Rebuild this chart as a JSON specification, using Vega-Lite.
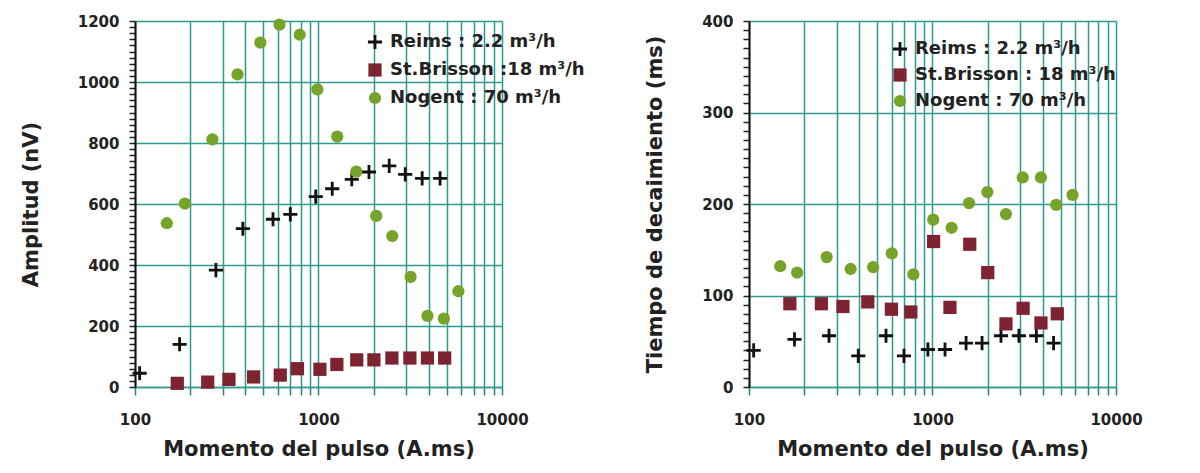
{
  "$schema": "https://vega.github.io/schema/vega-lite/v6.json",
  "background": "white",
  "padding": {"left": 20, "top": 14, "right": 5, "bottom": 5},
  "datasets": {
    "amp": [
      {"series": "Reims", "moment": 106, "value": 45},
      {"series": "Reims", "moment": 175, "value": 140},
      {"series": "Reims", "moment": 276, "value": 383},
      {"series": "Reims", "moment": 387, "value": 519},
      {"series": "Reims", "moment": 565, "value": 550},
      {"series": "Reims", "moment": 702, "value": 566},
      {"series": "Reims", "moment": 966, "value": 624},
      {"series": "Reims", "moment": 1188, "value": 650},
      {"series": "Reims", "moment": 1518, "value": 681},
      {"series": "Reims", "moment": 1884, "value": 705},
      {"series": "Reims", "moment": 2429, "value": 725},
      {"series": "Reims", "moment": 2970, "value": 697},
      {"series": "Reims", "moment": 3672, "value": 684},
      {"series": "Reims", "moment": 4597, "value": 684},
      {"series": "St.Brisson", "moment": 170, "value": 12},
      {"series": "St.Brisson", "moment": 249, "value": 16},
      {"series": "St.Brisson", "moment": 325, "value": 25},
      {"series": "St.Brisson", "moment": 443, "value": 33},
      {"series": "St.Brisson", "moment": 619, "value": 39},
      {"series": "St.Brisson", "moment": 768, "value": 60},
      {"series": "St.Brisson", "moment": 1018, "value": 58},
      {"series": "St.Brisson", "moment": 1259, "value": 74},
      {"series": "St.Brisson", "moment": 1616, "value": 89},
      {"series": "St.Brisson", "moment": 2004, "value": 89},
      {"series": "St.Brisson", "moment": 2512, "value": 95},
      {"series": "St.Brisson", "moment": 3148, "value": 95},
      {"series": "St.Brisson", "moment": 3925, "value": 95},
      {"series": "St.Brisson", "moment": 4870, "value": 95},
      {"series": "Nogent", "moment": 149, "value": 537},
      {"series": "Nogent", "moment": 187, "value": 601},
      {"series": "Nogent", "moment": 264, "value": 812},
      {"series": "Nogent", "moment": 362, "value": 1025},
      {"series": "Nogent", "moment": 482, "value": 1129},
      {"series": "Nogent", "moment": 613, "value": 1188},
      {"series": "Nogent", "moment": 790, "value": 1155},
      {"series": "Nogent", "moment": 986, "value": 976},
      {"series": "Nogent", "moment": 1265, "value": 821},
      {"series": "Nogent", "moment": 1607, "value": 706},
      {"series": "Nogent", "moment": 2064, "value": 561},
      {"series": "Nogent", "moment": 2524, "value": 495},
      {"series": "Nogent", "moment": 3176, "value": 361},
      {"series": "Nogent", "moment": 3925, "value": 233},
      {"series": "Nogent", "moment": 4824, "value": 224},
      {"series": "Nogent", "moment": 5788, "value": 314}
    ],
    "tau": [
      {"series": "Reims", "moment": 106, "value": 40},
      {"series": "Reims", "moment": 177, "value": 52},
      {"series": "Reims", "moment": 273, "value": 56},
      {"series": "Reims", "moment": 394, "value": 34},
      {"series": "Reims", "moment": 558, "value": 56},
      {"series": "Reims", "moment": 699, "value": 34},
      {"series": "Reims", "moment": 944, "value": 41},
      {"series": "Reims", "moment": 1170, "value": 41},
      {"series": "Reims", "moment": 1524, "value": 48},
      {"series": "Reims", "moment": 1862, "value": 48},
      {"series": "Reims", "moment": 2362, "value": 56},
      {"series": "Reims", "moment": 2957, "value": 56},
      {"series": "Reims", "moment": 3681, "value": 56},
      {"series": "Reims", "moment": 4570, "value": 48},
      {"series": "St.Brisson", "moment": 167, "value": 91},
      {"series": "St.Brisson", "moment": 248, "value": 91},
      {"series": "St.Brisson", "moment": 325, "value": 88},
      {"series": "St.Brisson", "moment": 444, "value": 93},
      {"series": "St.Brisson", "moment": 597, "value": 85},
      {"series": "St.Brisson", "moment": 762, "value": 82},
      {"series": "St.Brisson", "moment": 1014, "value": 159},
      {"series": "St.Brisson", "moment": 1245, "value": 87},
      {"series": "St.Brisson", "moment": 1596, "value": 156},
      {"series": "St.Brisson", "moment": 2000, "value": 125},
      {"series": "St.Brisson", "moment": 2514, "value": 69},
      {"series": "St.Brisson", "moment": 3118, "value": 86},
      {"series": "St.Brisson", "moment": 3900, "value": 70},
      {"series": "St.Brisson", "moment": 4786, "value": 80},
      {"series": "Nogent", "moment": 148, "value": 132},
      {"series": "Nogent", "moment": 183, "value": 125},
      {"series": "Nogent", "moment": 265, "value": 142},
      {"series": "Nogent", "moment": 358, "value": 129},
      {"series": "Nogent", "moment": 475, "value": 131},
      {"series": "Nogent", "moment": 600, "value": 146},
      {"series": "Nogent", "moment": 787, "value": 123},
      {"series": "Nogent", "moment": 1009, "value": 183},
      {"series": "Nogent", "moment": 1270, "value": 174},
      {"series": "Nogent", "moment": 1582, "value": 201},
      {"series": "Nogent", "moment": 1990, "value": 213},
      {"series": "Nogent", "moment": 2514, "value": 189},
      {"series": "Nogent", "moment": 3102, "value": 229},
      {"series": "Nogent", "moment": 3900, "value": 229},
      {"series": "Nogent", "moment": 4720, "value": 199},
      {"series": "Nogent", "moment": 5795, "value": 210}
    ]
  },
  "bounds": "flush",
  "spacing": 247,
  "resolve": {
    "scale": {"color": "independent", "shape": "independent", "size": "independent"},
    "legend": {"color": "independent", "shape": "independent", "size": "independent"}
  },
  "hconcat": [
    {
      "width": 367,
      "height": 366,
      "data": {"name": "amp"},
      "mark": {"type": "point", "filled": true, "opacity": 1},
      "encoding": {
        "x": {
          "field": "moment", "type": "quantitative",
          "scale": {"type": "log", "domain": [100, 10000], "nice": false},
          "axis": {
            "title": "Momento del pulso (A.ms)",
            "values": [100,200,300,400,500,600,700,800,900,1000,2000,3000,4000,5000,6000,7000,8000,9000,10000],
            "format": "d",
            "labelExpr": "(datum.value == 100 || datum.value == 1000 || datum.value == 10000) ? datum.label : ''",
            "labelOverlap": false
          }
        },
        "y": {
          "field": "value", "type": "quantitative",
          "scale": {"domain": [0, 1200], "nice": false},
          "axis": {
            "title": "Amplitud (nV)",
            "values": [0,20,40,60,80,100,120,140,160,180,200,220,240,260,280,300,320,340,360,380,400,420,440,460,480,500,520,540,560,580,600,620,640,660,680,700,720,740,760,780,800,820,840,860,880,900,920,940,960,980,1000,1020,1040,1060,1080,1100,1120,1140,1160,1180,1200],
            "labelExpr": "datum.value % 200 == 0 ? datum.label : ''",
            "format": "d",
            "labelOverlap": false,
            "ticks": true,
            "gridOpacity": {"condition": {"test": "datum.value % 200 == 0", "value": 1}, "value": 0}
          }
        },
        "color": {
          "field": "series", "type": "nominal",
          "scale": {"domain": ["Reims", "St.Brisson", "Nogent"], "range": ["#111111", "#7e2430", "#76a42a"]},
          "legend": {
            "title": null, "orient": "none", "legendX": 231, "legendY": 12,
            "labelExpr": "datum.value == 'Reims' ? 'Reims : 2.2 m³/h' : datum.value == 'St.Brisson' ? 'St.Brisson :18 m³/h' : 'Nogent : 70 m³/h'"
          }
        },
        "shape": {
          "field": "series", "type": "nominal",
          "scale": {"domain": ["Reims", "St.Brisson", "Nogent"], "range": ["M-1,-0.2L1,-0.2L1,0.2L-1,0.2Z M-0.2,-1L0.2,-1L0.2,1L-0.2,1Z", "square", "circle"]},
          "legend": {
            "title": null, "orient": "none", "legendX": 231, "legendY": 12,
            "labelExpr": "datum.value == 'Reims' ? 'Reims : 2.2 m³/h' : datum.value == 'St.Brisson' ? 'St.Brisson :18 m³/h' : 'Nogent : 70 m³/h'"
          }
        },
        "size": {
          "field": "series", "type": "nominal",
          "scale": {"domain": ["Reims", "St.Brisson", "Nogent"], "range": [200, 150, 120]},
          "legend": null
        }
      }
    },
    {
      "width": 367,
      "height": 366,
      "data": {"name": "tau"},
      "mark": {"type": "point", "filled": true, "opacity": 1},
      "encoding": {
        "x": {
          "field": "moment", "type": "quantitative",
          "scale": {"type": "log", "domain": [100, 10000], "nice": false},
          "axis": {
            "title": "Momento del pulso (A.ms)",
            "values": [100,200,300,400,500,600,700,800,900,1000,2000,3000,4000,5000,6000,7000,8000,9000,10000],
            "format": "d",
            "labelExpr": "(datum.value == 100 || datum.value == 1000 || datum.value == 10000) ? datum.label : ''",
            "labelOverlap": false
          }
        },
        "y": {
          "field": "value", "type": "quantitative",
          "scale": {"domain": [0, 400], "nice": false},
          "axis": {
            "title": "Tiempo de decaimiento (ms)",
            "values": [0,10,20,30,40,50,60,70,80,90,100,110,120,130,140,150,160,170,180,190,200,210,220,230,240,250,260,270,280,290,300,310,320,330,340,350,360,370,380,390,400],
            "labelExpr": "datum.value % 100 == 0 ? datum.label : ''",
            "format": "d",
            "labelOverlap": false,
            "ticks": true,
            "gridOpacity": {"condition": {"test": "datum.value % 100 == 0", "value": 1}, "value": 0}
          }
        },
        "color": {
          "field": "series", "type": "nominal",
          "scale": {"domain": ["Reims", "St.Brisson", "Nogent"], "range": ["#111111", "#7e2430", "#76a42a"]},
          "legend": {
            "title": null, "orient": "none", "legendX": 142, "legendY": 19, "rowPadding": 8,
            "labelExpr": "datum.value == 'Reims' ? 'Reims : 2.2 m³/h' : datum.value == 'St.Brisson' ? 'St.Brisson : 18 m³/h' : 'Nogent : 70 m³/h'"
          }
        },
        "shape": {
          "field": "series", "type": "nominal",
          "scale": {"domain": ["Reims", "St.Brisson", "Nogent"], "range": ["M-1,-0.2L1,-0.2L1,0.2L-1,0.2Z M-0.2,-1L0.2,-1L0.2,1L-0.2,1Z", "square", "circle"]},
          "legend": {
            "title": null, "orient": "none", "legendX": 142, "legendY": 19, "rowPadding": 8,
            "labelExpr": "datum.value == 'Reims' ? 'Reims : 2.2 m³/h' : datum.value == 'St.Brisson' ? 'St.Brisson : 18 m³/h' : 'Nogent : 70 m³/h'"
          }
        },
        "size": {
          "field": "series", "type": "nominal",
          "scale": {"domain": ["Reims", "St.Brisson", "Nogent"], "range": [200, 150, 120]},
          "legend": null
        }
      }
    }
  ],
  "config": {
    "view": {"stroke": null},
    "axis": {
      "labelFont": "DejaVu Sans", "labelFontWeight": "bold", "labelFontSize": 15, "labelColor": "#222222",
      "titleFont": "DejaVu Sans", "titleFontWeight": "bold", "titleFontSize": 21, "titleColor": "#222222",
      "gridColor": "#2f9a90", "gridWidth": 1.5, "labelFlush": false
    },
    "axisX": {
      "domainColor": "#2f9a90", "domainWidth": 1.5, "tickColor": "#2f7f78", "tickSize": 8, "tickWidth": 1.5,
      "labelPadding": 17, "titlePadding": 11
    },
    "axisY": {
      "domainColor": "#111111", "domainWidth": 2, "tickColor": "#222222", "tickWidth": 1.5, "tickSize": 6,
      "labelPadding": 10, "titlePadding": 36
    },
    "legend": {
      "labelFont": "DejaVu Sans", "labelFontWeight": "bold", "labelFontSize": 18, "labelColor": "#222222",
      "symbolSize": 150, "rowPadding": 10, "padding": 0, "labelOffset": 6, "labelLimit": 400
    }
  }
}
